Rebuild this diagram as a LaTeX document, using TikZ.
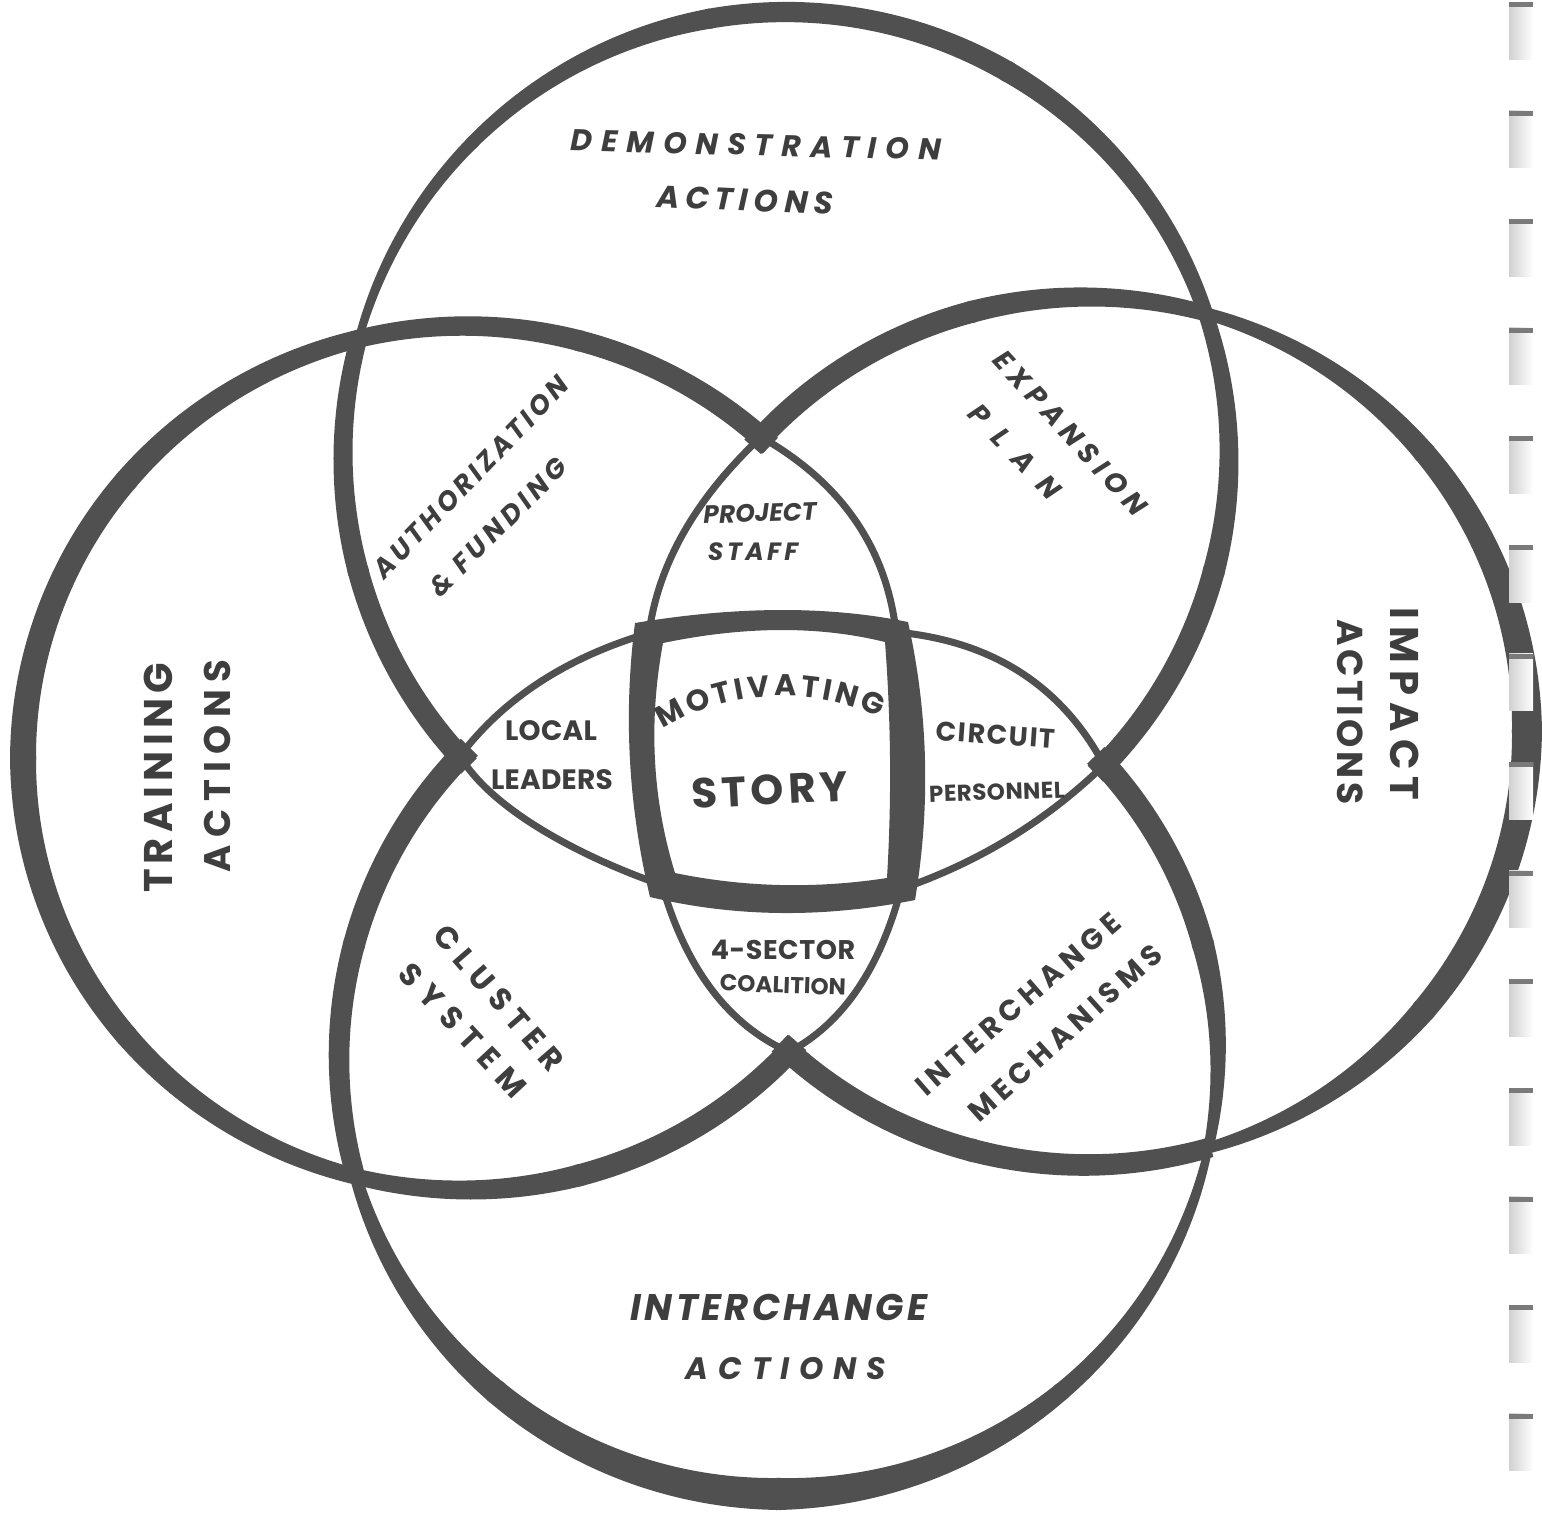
\documentclass[tikz,border=0pt]{standalone}
\usepackage{fontspec}
\newfontfamily\hand{Poppins}
\usetikzlibrary{decorations.text,calc}
\definecolor{ink}{HTML}{505050}
\definecolor{txt}{HTML}{3E3E3E}
\definecolor{holeedge}{HTML}{7A7A7A}
\newcommand\lsz[2]{\fontsize{#1}{#1}\selectfont\addfontfeature{LetterSpace=#2}}
% band along an ellipse: cx cy a b t1 t2 w1 w2 (width varies linearly)
\newcommand\bandseg[8]{%
 \pgfmathsetmacro\tA{#5-0.3}\pgfmathsetmacro\tB{#6+0.3}%
 \fill[ink] plot[variable=\t,domain=\tA:\tB,samples=40]
   ({#1+(#3+0.5*(#7+(#8-#7)*(\t-#5)/(#6-#5)))*cos(\t)},{#2+(#4+0.5*(#7+(#8-#7)*(\t-#5)/(#6-#5)))*sin(\t)})
 -- plot[variable=\t,domain=\tB:\tA,samples=40]
   ({#1+(#3-0.5*(#7+(#8-#7)*(\t-#5)/(#6-#5)))*cos(\t)},{#2+(#4-0.5*(#7+(#8-#7)*(\t-#5)/(#6-#5)))*sin(\t)})
 -- cycle;}
\newcommand\Tb[4]{\bandseg{786}{456}{443}{444}{#1}{#2}{#3}{#4}}
\newcommand\Lb[4]{\bandseg{465}{758}{442}{432}{#1}{#2}{#3}{#4}}
\newcommand\Rb[4]{\bandseg{1086}{731}{441}{434}{#1}{#2}{#3}{#4}}
\newcommand\Bb[4]{\bandseg{778.5}{1057.5}{439.5}{436.5}{#1}{#2}{#3}{#4}}
\begin{document}
\begin{tikzpicture}[x=1pt,y=-1pt,
  lab/.style={text=txt,inner sep=0pt,font=\hand\bfseries},
  labi/.style={lab,font=\hand\bfseries\itshape},
  thinarc/.style={draw=ink,line width=7pt}]
\fill[white] (0,0) rectangle (1542,1513);
\useasboundingbox (0,0) rectangle (1542,1513);

% ---- top circle (Demonstration), outer thick part
\Tb{136}{165}{22}{21}
\Tb{165}{195.3}{21}{17}
\Tb{195.3}{225}{8}{13}
\Tb{225}{260}{13}{20}
\Tb{260}{300}{20}{21}
\Tb{300}{341.3}{21}{15}
\Tb{341.3}{375}{15}{22}
\Tb{375}{405.4}{22}{22}

% ---- left circle (Training)
\Lb{104.32}{140}{16}{22}
\Lb{140}{180}{22}{26}
\Lb{180}{220}{26}{23}
\Lb{220}{256}{23}{18}
\Lb{256}{285}{18}{21}
\Lb{285}{313.4}{21}{22}
\Lb{41.5}{75}{23}{22}
\Lb{75}{104.32}{22}{16}

% ---- right circle (Impact)
\Rb{221.2}{255}{22}{22}
\Rb{255}{285.8}{22}{16}
\Rb{285.8}{320}{12}{22}
\Rb{320}{360}{22}{30}
\Rb{360}{400}{30}{24}
\Rb{400}{433.89}{24}{11}
\Rb{73.89}{105}{20}{23}
\Rb{105}{133.7}{23}{23}

% ---- bottom circle (Interchange)
\Bb{164.15}{195}{19}{22}
\Bb{195}{225}{22}{24}
\Bb{316.5}{345}{24}{22}
\Bb{345}{371.97}{22}{10}
\Bb{11.97}{50}{8}{18}
\Bb{50}{90}{18}{32}
\Bb{90}{130}{32}{24}
\Bb{130}{164.15}{24}{12}

% ---- cusps, square corners and thin inner arcs
\coordinate (ctop) at (761,437);
\coordinate (cleft) at (460,756);
\coordinate (cright) at (1104,765);
\coordinate (cbot) at (789,1052);
\coordinate (qTL) at (649,633);
\coordinate (qTR) at (896,632);
\coordinate (qBR) at (901,889);
\coordinate (qBL) at (662,885);
\coordinate (k1) at (663,529);
\coordinate (k2) at (881.5,505.5);
\coordinate (k3) at (525.5,669.5);
\coordinate (k5) at (1040,645.5);
\coordinate (k6) at (1017.5,849);
\coordinate (k7) at (698.5,1011.5);
\coordinate (k8) at (869,1009.5);
\draw[thinarc] (ctop) .. controls ($(ctop)!0.6667!(k1)$) and ($(qTL)!0.6667!(k1)$) .. (qTL);
\draw[thinarc] (ctop) .. controls ($(ctop)!0.6667!(k2)$) and ($(qTR)!0.6667!(k2)$) .. (qTR);
\draw[thinarc] (cleft) .. controls ($(cleft)!0.6667!(k3)$) and ($(qTL)!0.6667!(k3)$) .. (qTL);
\draw[thinarc] (cleft) .. controls (495,815) and (595,862) .. (qBL);
\draw[thinarc] (qTR) .. controls ($(qTR)!0.6667!(k5)$) and ($(cright)!0.6667!(k5)$) .. (cright);
\draw[thinarc] (qBR) .. controls ($(qBR)!0.6667!(k6)$) and ($(cright)!0.6667!(k6)$) .. (cright);
\draw[thinarc] (qBL) .. controls ($(qBL)!0.6667!(k7)$) and ($(cbot)!0.6667!(k7)$) .. (cbot);
\draw[thinarc] (qBR) .. controls ($(qBR)!0.6667!(k8)$) and ($(cbot)!0.6667!(k8)$) .. (cbot);

% ---- central square (Motivating story)
\fill[ink,even odd rule]
  (635,623) .. controls (737.3,606) and (828.3,605.7) .. (908,622)
  .. controls (928.3,713.3) and (930.7,806) .. (915,900)
  .. controls (823.3,918.3) and (735,917.3) .. (650,897)
  .. controls (628.3,805.7) and (623.3,714.3) .. cycle
  (663,643) .. controls (745,626) and (819,625.7) .. (885,642)
  .. controls (891,720.7) and (891.7,799.3) .. (887,878)
  .. controls (815,889) and (744.3,887.3) .. (675,873)
  .. controls (652.3,799) and (648.3,722.3) .. cycle;

% ---- binding holes
\foreach \k in {0,...,13}{
  \shade[left color=black!18,right color=white] (1509,{2+108.6*\k}) rectangle (1533,{59+108.6*\k});
  \fill[holeedge] (1509,{2+108.6*\k}) rectangle (1533,{7+108.6*\k});
}

% ---- labels
\node[labi,rotate=-1.5] (demo) at (756,145) {\lsz{30}{30}DEMONSTRATION};
\node[labi,rotate=-2.5] (demoA) at (745,200) {\lsz{31}{19}ACTIONS};
\node[labi] (inter) at (779,1307) {\lsz{37}{9}INTERCHANGE};
\node[labi] (interA) at (786,1369) {\lsz{31}{32}ACTIONS};
\node[lab,rotate=90] (train) at (158,778) {\lsz{40}{13}TRAINING};
\node[lab,rotate=90] (trainA) at (217,766) {\lsz{37}{20}ACTIONS};
\node[lab,rotate=-90] (impact) at (1405,704) {\lsz{40}{18}IMPACT};
\node[lab,rotate=-90] (impactA) at (1350,712) {\lsz{36}{10}ACTIONS};
\node[labi,rotate=-47.5] (exp) at (1070,433) {\lsz{28}{22}EXPANSION};
\node[labi,rotate=-46] (plan) at (1015,452) {\lsz{28}{56}PLAN};
\node[labi,rotate=46] (auth) at (471,477) {\lsz{27}{14}AUTHORIZATION};
\node[labi,rotate=45] (fund) at (498,527) {\lsz{27}{17}\& FUNDING};
\node[labi,rotate=2] (proj) at (760,513) {\lsz{25}{0}PROJECT};
\node[labi] (staff) at (753,552) {\lsz{25}{14}STAFF};
\path[decorate,decoration={text along path,text align={fit to path},
  text={|\hand\bfseries\fontsize{30}{30}\selectfont\color{txt}|MOTIVATING}}]
  plot[variable=\t,domain=-121:-65,samples=30] ({782+232*cos(\t)},{928+232*sin(\t)});
\node[lab,rotate=3] (story) at (770,790) {\lsz{42}{10}STORY};
\node[lab] (local) at (551,731) {\lsz{28}{1}LOCAL};
\node[lab] (leaders) at (552,780) {\lsz{28}{1}LEADERS};
\node[lab,rotate=-4] (circuit) at (996,735) {\lsz{27}{6}CIRCUIT};
\node[lab,rotate=2] (pers) at (997,792) {\lsz{23}{2}PERSONNEL};
\node[lab] (sector) at (783,950) {\lsz{27}{2}4-SECTOR};
\node[lab,rotate=-2] (coal) at (783,985) {\lsz{23}{0}COALITION};
\node[lab,rotate=-49] (cluster) at (499,998) {\lsz{31}{25}CLUSTER};
\node[lab,rotate=-47] (system) at (463,1030) {\lsz{31}{31}SYSTEM};
\node[lab,rotate=41] (interM) at (1018,1004) {\lsz{29}{19}INTERCHANGE};
\node[lab,rotate=42] (mech) at (1065,1033) {\lsz{29}{19}MECHANISMS};
\end{tikzpicture}
\end{document}
